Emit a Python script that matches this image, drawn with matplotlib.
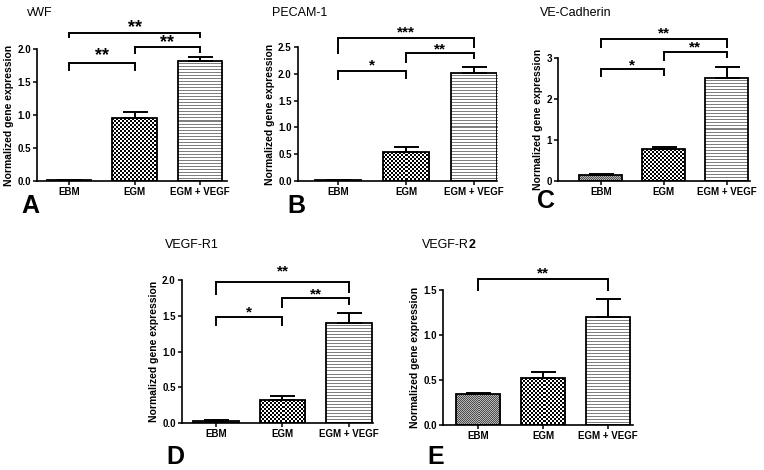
import numpy as np
import matplotlib
matplotlib.use("Agg")
import matplotlib.pyplot as plt
from matplotlib.transforms import offset_copy

plt.rcParams['font.family'] = ['Liberation Sans', 'DejaVu Sans']

# ---------------- data ----------------
categories = ['EBM', 'EGM', 'EGM + VEGF']
titles = ['vWF', 'PECAM-1', 'VE-Cadherin', 'VEGF-R1', 'VEGF-R']
panel_letters = ['A', 'B', 'C', 'D', 'E']
ylabel = 'Normalized gene expression'

means_vwf = [0.01, 0.95, 1.82]
err_vwf = [0.005, 0.10, 0.06]
means_pecam = [0.01, 0.54, 2.02]
err_pecam = [0.005, 0.09, 0.11]
means_vecad = [0.14, 0.78, 2.52]
err_vecad = [0.02, 0.04, 0.27]
means_r1 = [0.03, 0.32, 1.40]
err_r1 = [0.01, 0.06, 0.14]
means_r2 = [0.34, 0.52, 1.20]
err_r2 = [0.015, 0.07, 0.20]

yticks_vwf = [0.0, 0.5, 1.0, 1.5, 2.0]
yticks_pecam = [0.0, 0.5, 1.0, 1.5, 2.0, 2.5]
yticks_vecad = [0, 1, 2, 3]
yticks_r1 = [0.0, 0.5, 1.0, 1.5, 2.0]
yticks_r2 = [0.0, 0.5, 1.0, 1.5]

# significance brackets: (group i, group j, label)
sig_vwf = [(0, 2, '**'), (0, 1, '**'), (1, 2, '**')]
sig_pecam = [(0, 2, '***'), (0, 1, '*'), (1, 2, '**')]
sig_vecad = [(0, 2, '**'), (0, 1, '*'), (1, 2, '**')]
sig_r1 = [(0, 2, '**'), (0, 1, '*'), (1, 2, '**')]
sig_r2 = [(0, 2, '**')]

# ---------------- layout (pixels, figure 764x470) ----------------
W, H = 764, 470
fig = plt.figure(figsize=(W / 100, H / 100), dpi=100)

panels = [
    dict(means=means_vwf, err=err_vwf, yt=yticks_vwf, sig=sig_vwf, fmt='%.1f',
         box=(37, 49, 190, 132), xlim=(-0.49, 2.41),
         # (horizontal y, left leg y, right leg y, star y) in axes fraction
         br=[(1.121, 1.091, 1.091, 1.19), (0.894, 0.841, 0.841, 0.98), (1.015, 0.97, 0.975, 1.08)],
         star=13, title_xy=(27, 13), letter_xy=(30, 213)),
    dict(means=means_pecam, err=err_pecam, yt=yticks_pecam, sig=sig_pecam, fmt='%.1f',
         box=(298, 47, 199, 134), xlim=(-0.59, 2.34),
         br=[(1.067, 0.955, 1.0, 1.14), (0.821, 0.761, 0.766, 0.89), (0.955, 0.888, 0.918, 1.01)],
         star=11, title_xy=(272, 13), letter_xy=(296, 213)),
    dict(means=means_vecad, err=err_vecad, yt=yticks_vecad, sig=sig_vecad, fmt='%d',
         box=(558, 58, 192, 123), xlim=(-0.68, 2.37),
         br=[(1.154, 1.089, 1.089, 1.235), (0.911, 0.854, 0.862, 0.975), (1.049, 0.984, 1.008, 1.115)],
         star=11, title_xy=(540, 13), letter_xy=(546, 208)),
    dict(means=means_r1, err=err_r1, yt=yticks_r1, sig=sig_r1, fmt='%.1f',
         box=(182, 280, 191, 143), xlim=(-0.51, 2.36),
         br=[(0.986, 0.902, 0.916, 1.085), (0.741, 0.685, 0.685, 0.80), (0.874, 0.811, 0.832, 0.925)],
         star=11, title_xy=(165, 245), letter_xy=(175, 464)),
    dict(means=means_r2, err=err_r2, yt=yticks_r2, sig=sig_r2, fmt='%.1f',
         box=(443, 290, 190, 135), xlim=(-0.54, 2.38),
         br=[(1.081, 1.0, 1.0, 1.15)],
         star=11, title_xy=(422, 245), letter_xy=(436, 464)),
]

BAR_W = 0.68


def pattern_rgb(kind, hp, wp):
    r = np.arange(hp)[:, None]
    c = np.arange(wp)[None, :]
    img = np.ones((hp, wp, 3))
    if kind == 0:      # fine grey texture
        m = ((r + c) % 2 == 0)
        img[:] = 0.72
        img[m] = 0.30
    elif kind == 1:    # checkerboard
        m = ((r // 2 + c // 2) % 2 == 0)
        img[:] = 1.0
        img[m] = 0.0
    else:              # horizontal stripes
        m = np.broadcast_to((r % 3 == 0), (hp, wp))
        img[:] = 1.0
        img[m] = 0.50
    return img


for k, p in enumerate(panels):
    l, t, w, h = p['box']
    ax = fig.add_axes([l / W, (H - t - h) / H, w / W, h / H])
    x = np.arange(len(categories))
    ymax = p['yt'][-1]
    ax.set_xlim(*p['xlim'])
    ax.set_ylim(0, ymax)

    bars = ax.bar(x, p['means'], width=BAR_W, color='white', edgecolor='none', zorder=2)
    for i, b in enumerate(bars):
        x0, y0 = b.get_x(), b.get_y()
        x1, y1 = x0 + b.get_width(), y0 + b.get_height()
        d = ax.transData.transform([(x0, y0), (x1, y1)])
        wp = max(int(round(d[1, 0] - d[0, 0])), 1)
        hp = max(int(round(d[1, 1] - d[0, 1])), 1)
        im = ax.imshow(pattern_rgb(i, hp, wp), extent=(x0, x1, y0, y1),
                       interpolation='nearest', aspect='auto', zorder=2.5, origin='upper')
        im.set_clip_path(b)
    ax.bar(x, p['means'], width=BAR_W, fill=False, edgecolor='black', linewidth=1.3, zorder=3)
    ax.errorbar(x, p['means'], yerr=[np.zeros(3), p['err']], fmt='none', ecolor='black',
                elinewidth=1.4, capsize=9, capthick=1.4, zorder=4)
    ax.set_xlim(*p['xlim'])
    ax.set_ylim(0, ymax)

    for s in ['top', 'right']:
        ax.spines[s].set_visible(False)
    for s in ['left', 'bottom']:
        ax.spines[s].set_linewidth(1.2)
    ax.set_xticks(x)
    ax.set_xticklabels(categories)
    ax.set_yticks(p['yt'])
    ax.set_yticklabels([p['fmt'] % v for v in p['yt']])
    ax.tick_params(axis='both', direction='out', length=3, width=1.1, labelsize=7, pad=1.5)
    for lab in ax.get_xticklabels() + ax.get_yticklabels():
        lab.set_fontweight('bold')
    ax.set_ylabel(ylabel, fontsize=7.5, fontweight='bold', labelpad=2)

    trans = ax.get_xaxis_transform()
    star_trans = offset_copy(trans, fig=fig, y=-4, units='dots')
    for (i, j, lab), (yh, yl, yr, ys) in zip(p['sig'], p['br']):
        ax.plot([x[i], x[i], x[j], x[j]], [yl, yh, yh, yr], color='black', lw=1.4,
                transform=trans, clip_on=False, solid_joinstyle='miter')
        ax.text((x[i] + x[j]) / 2, ys, lab, transform=star_trans, ha='center', va='center',
                fontsize=p['star'], fontweight='bold')

    tx, ty = p['title_xy']
    ttl = fig.text(tx / W, 1 - ty / H, titles[k], fontsize=9, ha='left', va='center')
    if k == 4:
        ax.annotate('2', xy=(1, 0), xycoords=ttl, ha='left', va='bottom',
                    fontsize=9, fontweight='bold')
    lx, ly = p['letter_xy']
    fig.text(lx / W, 1 - ly / H, panel_letters[k], fontsize=18, fontweight='bold',
             ha='center', va='baseline')

fig.savefig('out.png', dpi=100)
